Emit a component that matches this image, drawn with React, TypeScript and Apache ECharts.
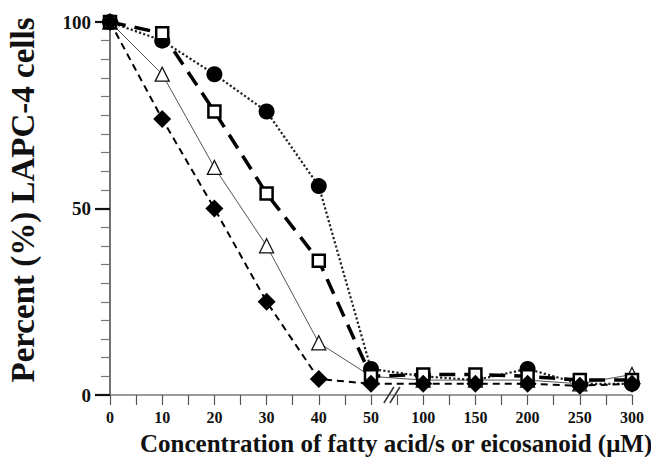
import React, { useEffect, useRef } from "react";
import * as echarts from "echarts";

const xLabels = ["0", "10", "20", "30", "40", "50", "100", "150", "200", "250", "300"];
const circleVals = [100, 95, 86, 76, 56, 7, 5, 4, 7, 3, 3];
const squareVals = [100, 97, 76, 54, 36, 5, 5.5, 5.5, 5, 4, 4];
const triangleVals = [100, 86, 61, 40, 14, 5, 4, 4, 4, 3, 5.5];
const diamondVals = [100, 74, 50, 25, 4.3, 3, 3, 3, 3, 2.5, 3];
const yTitle = "Percent (%) LAPC-4 cells";
const xTitle = "Concentration of fatty acid/s or eicosanoid (\u03bcM)";

const FONT = "'Liberation Serif', 'Times New Roman', serif";

const toPairs = (vals: number[]) => vals.map((v, i) => [i, v]);

export default function App() {
  const ref = useRef<HTMLDivElement>(null);
  useEffect(() => {
    if (!ref.current) return;
    const chart = echarts.init(ref.current, undefined, { renderer: "svg" });
    chart.setOption({
      animation: false,
      backgroundColor: "#fff",
      grid: { left: 110, right: 19, top: 22, bottom: 62 },
      xAxis: {
        type: "value",
        min: 0,
        max: 10,
        interval: 1,
        axisLine: { show: true, lineStyle: { color: "#7a7a7a", width: 1.5 } },
        axisTick: { show: true, length: 10, lineStyle: { color: "#555", width: 1.2 } },
        minorTick: { show: true, splitNumber: 2, length: 10, lineStyle: { color: "#555", width: 1.2 } },
        splitLine: { show: false },
        minorSplitLine: { show: false },
        axisLabel: {
          margin: 14,
          fontFamily: FONT,
          fontWeight: "bold",
          fontSize: 16,
          color: "#111",
          formatter: (v: number) => xLabels[Math.round(v)] ?? "",
        },
      },
      yAxis: {
        type: "value",
        min: 0,
        max: 100,
        interval: 50,
        axisLine: { show: true, lineStyle: { color: "#444", width: 1.5 } },
        axisTick: { show: true, length: 15, lineStyle: { color: "#111", width: 2.2 } },
        minorTick: { show: true, splitNumber: 10, length: 9, lineStyle: { color: "#777", width: 1.2 } },
        splitLine: { show: false },
        minorSplitLine: { show: false },
        axisLabel: {
          margin: 19,
          fontFamily: FONT,
          fontWeight: "bold",
          fontSize: 19,
          color: "#111",
        },
      },
      series: [
        {
          name: "triangles",
          type: "line",
          data: toPairs(triangleVals),
          clip: false,
          symbol: "triangle",
          symbolSize: 14,
          itemStyle: { color: "#fff", borderColor: "#111", borderWidth: 1.3 },
          lineStyle: { color: "#555", width: 1, type: "solid" },
          z: 2,
        },
        {
          name: "circles",
          type: "line",
          data: toPairs(circleVals),
          clip: false,
          symbol: "circle",
          symbolSize: 16,
          itemStyle: { color: "#000", borderColor: "#000", borderWidth: 0 },
          lineStyle: { color: "#222", width: 2.2, type: "dotted" },
          z: 3,
        },
        {
          name: "squares",
          type: "line",
          data: toPairs(squareVals),
          clip: false,
          symbol: "rect",
          symbolSize: 12,
          itemStyle: { color: "#fff", borderColor: "#000", borderWidth: 2.5 },
          lineStyle: { color: "#000", width: 3.5, type: [16, 9] },
          z: 4,
        },
        {
          name: "diamonds",
          type: "line",
          data: toPairs(diamondVals),
          clip: false,
          symbol: "diamond",
          symbolSize: 18,
          itemStyle: { color: "#000", borderColor: "#000", borderWidth: 0 },
          lineStyle: { color: "#000", width: 2, type: [7, 5] },
          z: 5,
        },
      ],
    });
    const p = chart.convertToPixel({ gridIndex: 0 }, [5.4, 0]) as number[];
    chart.setOption({
      graphic: [
        {
          id: "brk1",
          type: "line",
          shape: { x1: p[0] - 8, y1: p[1] + 8, x2: p[0] + 2, y2: p[1] - 8 },
          style: { stroke: "#333", lineWidth: 1.5 },
          z: 10,
        },
        {
          id: "brk2",
          type: "line",
          shape: { x1: p[0] - 2, y1: p[1] + 8, x2: p[0] + 8, y2: p[1] - 8 },
          style: { stroke: "#333", lineWidth: 1.5 },
          z: 10,
        },
        {
          id: "ytitle",
          type: "text",
          x: 23,
          y: 200,
          rotation: Math.PI / 2,
          style: {
            text: yTitle,
            font: `bold 33px ${FONT}`,
            fill: "#111",
            align: "center",
            verticalAlign: "middle",
          },
        },
        {
          id: "xtitle",
          type: "text",
          x: 140,
          y: 443,
          style: {
            text: xTitle,
            font: `bold 25px ${FONT}`,
            fill: "#111",
            align: "left",
            verticalAlign: "middle",
          },
        },
      ],
    });
    return () => chart.dispose();
  }, []);
  return (
    <div
      ref={ref}
      style={{ position: "fixed", left: 0, top: 0, width: 651, height: 457, background: "#fff" }}
    />
  );
}
